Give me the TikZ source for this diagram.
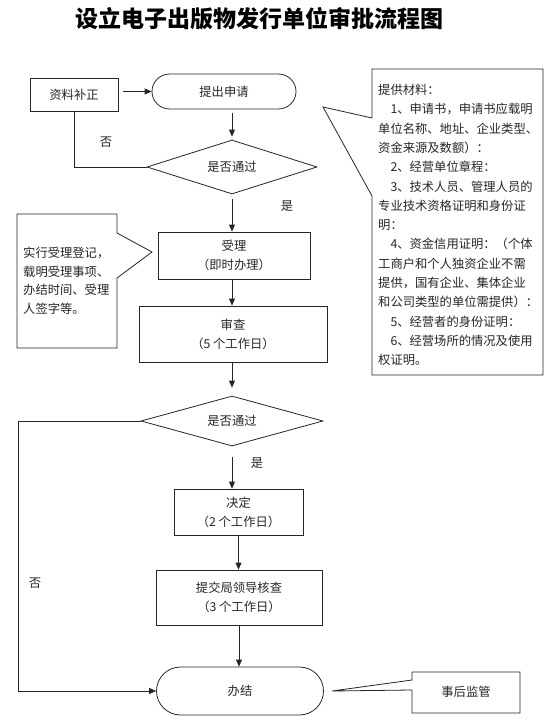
\documentclass[tikz,border=0pt]{standalone}
\usepackage{fontspec}
\setmainfont{Noto Sans CJK SC}
\usetikzlibrary{shapes.geometric,shapes.misc,arrows.meta}
\newcommand\tsz{\fontsize{12.3pt}{19pt}\selectfont}
\begin{document}
\begin{tikzpicture}[x=1pt,y=-1pt,
  ln/.style={line width=0.8pt, draw=black!85},
  box/.style={draw=black!85, line width=0.8pt, rectangle, inner sep=0pt, align=center, font=\tsz, text=black!85},
  term/.style={draw=black!85, line width=0.8pt, rounded rectangle, inner sep=0pt, font=\tsz, text=black!85},
  dec/.style={draw=black!85, line width=0.8pt, diamond, aspect=3, inner sep=0pt, font=\tsz, text=black!85},
  arr/.style={ln, -{Triangle[length=7pt,width=6pt]}},
  lbl/.style={inner sep=0pt, font=\tsz, text=black!85}]
\useasboundingbox (0,0) rectangle (555,725);
\fill[white] (0,0) rectangle (555,725);

\node[inner sep=0pt, font=\fontsize{23pt}{24pt}\selectfont\bfseries] (title) at (259,19) {设立电子出版物发行单位审批流程图};

\node[box, minimum width=88pt, minimum height=33pt] (ziliao) at (74,94.5) {资料补正};
\node[term, minimum width=144pt, minimum height=35pt] (tichu) at (224,91.5) {提出申请};
\node[dec, minimum width=170pt, minimum height=54pt] (d1) at (232,167) {是否通过};
\node[box, minimum width=152pt, minimum height=47pt] (shouli) at (234,255.5) {受理\\（即时办理）};
\node[box, minimum width=188pt, minimum height=56pt] (shencha) at (233,334) {审查\\（5 个工作日）};
\node[dec, minimum width=182pt, minimum height=50pt] (d2) at (232,421) {是否通过};
\node[box, minimum width=129pt, minimum height=46pt] (jueding) at (238.5,512) {决定\\（2 个工作日）};
\node[box, minimum width=166pt, minimum height=55pt] (tijiao) at (239,597.5) {提交局领导核查\\（3 个工作日）};
\node[term, minimum width=167pt, minimum height=48pt] (banjie) at (240,691) {办结};

% callout: materials
\draw[ln] (372,69) -- (543,69) -- (543,375) -- (372,375) -- (372,196) -- (323,107) -- (372,118) -- cycle;
\node[anchor=north west, inner sep=0pt, align=left, text=black!85,
  font=\fontsize{12.3pt}{19.3pt}\selectfont] (mat) at (378,84) {%
提供材料：\\
\hspace*{1em}1、申请书，申请书应载明\\
单位名称、地址、企业类型、\\
资金来源及数额）：\\
\hspace*{1em}2、经营单位章程：\\
\hspace*{1em}3、技术人员、管理人员的\\
专业技术资格证明和身份证\\
明：\\
\hspace*{1em}4、资金信用证明：（个体\\
工商户和个人独资企业不需\\
提供，国有企业、集体企业\\
和公司类型的单位需提供）：\\
\hspace*{1em}5、经营者的身份证明：\\
\hspace*{1em}6、经营场所的情况及使用\\
权证明。};

% callout: acceptance note
\draw[ln] (17,214) -- (117,214) -- (117,233) -- (152,252) -- (117,278) -- (117,348) -- (17,348) -- cycle;
\node[anchor=north west, inner sep=0pt, align=left, text=black!85,
  font=\fontsize{12.3pt}{18.5pt}\selectfont] (note) at (23,247) {%
实行受理登记，\\
载明受理事项、\\
办结时间、受理\\
人签字等。};

% callout: supervision
\draw[ln] (412,672) -- (520,672) -- (520,713) -- (412,713) -- (412,690) -- (332,691) -- (412,680) -- cycle;
\node[lbl] (jg) at (466,692) {事后监管};

% labels
\node[lbl] (no1) at (106,142) {否};
\node[lbl] (yes1) at (287,206) {是};
\node[lbl] (yes2) at (257,463) {是};
\node[lbl] (no2) at (35,583) {否};

% connectors
\draw[arr, shorten <=5pt] (ziliao.east |- tichu.west) -- (tichu.west);
\draw[ln] (ziliao.south) |- (d1.west);
\draw[arr, shorten <=4pt, shorten >=3pt] (d1.north |- tichu.south) -- (d1.north);
\draw[arr, shorten <=5pt] (d1.south) -- (d1.south |- shouli.north);
\draw[arr] (d1.south |- shouli.south) -- (d1.south |- shencha.north);
\draw[arr, shorten >=8pt] (d1.south |- shencha.south) -- (d2.north);
\draw[arr, shorten <=11pt] (d2.south) -- (d2.south |- jueding.north);
\draw[arr] (jueding.south) -- (jueding.south |- tijiao.north);
\draw[arr] (tijiao.south) -- (tijiao.south |- banjie.north);
\coordinate (lc) at (18,421);
\draw[arr] (d2.west) -- (lc) |- (banjie.west);
\end{tikzpicture}
\end{document}
